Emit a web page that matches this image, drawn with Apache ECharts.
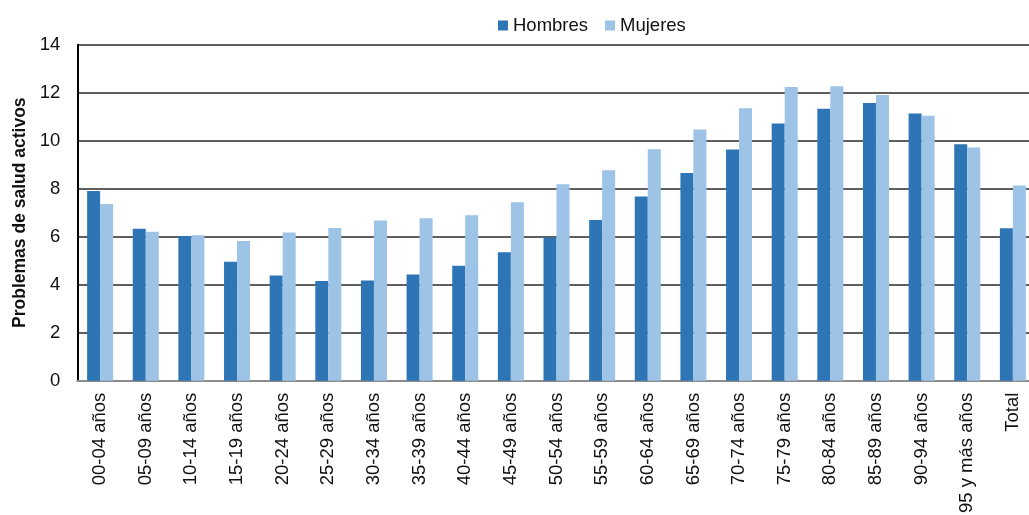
<!DOCTYPE html>
<html>
<head>
<meta charset="utf-8">
<script src="https://cdn.jsdelivr.net/npm/echarts@6/dist/echarts.min.js"></script>
<style>
html,body{margin:0;padding:0;background:#fff;}
#chart{width:1029px;height:515px;}
</style>
</head>
<body>
<div id="chart"></div>
<script>
const categories = ['00-04 años','05-09 años','10-14 años','15-19 años','20-24 años','25-29 años','30-34 años','35-39 años','40-44 años','45-49 años','50-54 años','55-59 años','60-64 años','65-69 años','70-74 años','75-79 años','80-84 años','85-89 años','90-94 años','95 y más años','Total'];
const hombres = [7.90,6.33,6.03,4.96,4.38,4.15,4.18,4.43,4.79,5.35,5.97,6.70,7.67,8.65,9.63,10.72,11.33,11.57,11.13,9.85,6.35];
const mujeres = [7.36,6.21,6.06,5.82,6.18,6.36,6.68,6.77,6.89,7.44,8.19,8.77,9.64,10.47,11.35,12.24,12.27,11.90,11.04,9.72,8.13];
const seriesNames = ['Hombres','Mujeres'];
const yAxisName = 'Problemas de salud activos';

const chart = echarts.init(document.getElementById('chart'));
const font = '"Liberation Sans", Arial, Helvetica, sans-serif';
chart.setOption({
  animation: false,
  textStyle: {fontFamily: font},
  legend: {
    data: seriesNames,
    left: 493, top: 11,
    icon: 'rect', itemWidth: 10, itemHeight: 10, itemGap: 17,
    textStyle: {fontSize: 18.5, color: '#111', fontFamily: font}
  },
  grid: {left: 77.3, right: -6.7, top: 44.7, bottom: 134.3, containLabel: false, outerBoundsMode: 'none'},
  xAxis: {
    type: 'category',
    data: categories,
    axisLine: {lineStyle: {color: '#8c8c8c', width: 2}},
    axisTick: {show: false},
    axisLabel: {rotate: 90, fontSize: 18.5, color: '#111', margin: 12, fontFamily: font, interval: 0}
  },
  yAxis: {
    type: 'value',
    min: 0, max: 14, interval: 2,
    name: yAxisName,
    nameLocation: 'middle',
    nameGap: 48,
    nameTextStyle: {fontSize: 17.5, fontWeight: 'bold', color: '#111', fontFamily: font},
    axisLine: {show: true, lineStyle: {color: '#000', width: 2}},
    axisTick: {show: false},
    axisLabel: {fontSize: 18.5, color: '#111', margin: 17, fontFamily: font},
    splitLine: {lineStyle: {color: '#2a2a2a', width: 1.5}}
  },
  series: [
    {name: seriesNames[0], type: 'bar', data: hombres, barWidth: 13, barGap: '0%',
     itemStyle: {color: '#2E75B6'}},
    {name: seriesNames[1], type: 'bar', data: mujeres, barWidth: 13, barGap: '0%',
     itemStyle: {color: '#9DC3E6'}}
  ]
});
</script>
</body>
</html>
